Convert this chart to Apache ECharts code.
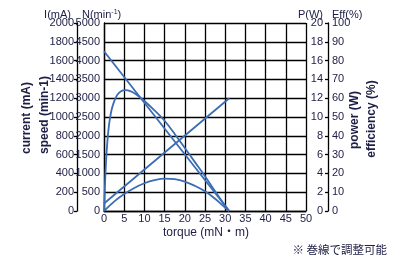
<!DOCTYPE html>
<html><head><meta charset="utf-8">
<script src="https://cdn.jsdelivr.net/npm/echarts@6/dist/echarts.min.js"></script>
<style>html,body{margin:0;padding:0;background:#fff}#c{width:400px;height:265px}</style>
</head><body><div id="c"></div>
<script>
// torque (mN·m) vs speed (min-1)
const speedData = [[0, 4250], [31, 0]];
// torque vs current (mA)
const currentData = [[0, 80], [31, 1200]];
// torque vs output power (W)
const powerData = [[0,0],[2.5,1.0],[5,1.8],[7.5,2.45],[10,2.95],[12.5,3.28],[15,3.44],[17.5,3.38],[20,3.13],[22.5,2.68],[25,2.1],[27.5,1.3],[30,0.35],[31,0]];
// torque vs efficiency (%)
const effData = [[0,0],[0.2,12],[0.5,26],[0.8,36],[1.2,45],[1.7,52],[2.3,57],[3.2,61.5],[4.2,63.7],[5.3,64.3],[6.5,63.8],[8,62],[10,58.5],[12.5,53.5],[15,48],[17.5,41],[20,33.5],[22.5,26],[25,18.5],[27.5,10.5],[30,2.8],[31,0]];

const xLabel = 'torque (mN・m)';
const TXT = '#1d1d45';
const LINE = '#3b6cb4';
const FONT = '"Liberation Sans Narrow", "Liberation Sans"';

const chart = echarts.init(document.getElementById('c'), null, {renderer: 'canvas'});
const lbl = {color: TXT, fontFamily: FONT, fontSize: 11, formatter: v => String(v)};
chart.setOption({
  animation: false,
  grid: {left: 104, right: 94, top: 23, bottom: 54},
  xAxis: {
    type: 'value', min: 0, max: 50, interval: 5,
    axisLine: {show: true, lineStyle: {color: '#000', width: 1.3}},
    axisTick: {show: false},
    splitLine: {show: true, lineStyle: {color: '#000', width: 1.3}},
    axisLabel: Object.assign({margin: 2}, lbl)
  },
  yAxis: [
    {type: 'value', position: 'left', min: 0, max: 5000, interval: 500,
     axisLine: {show: true, lineStyle: {color: '#000', width: 1.3}},
     axisTick: {show: false},
     splitLine: {show: true, lineStyle: {color: '#000', width: 1.3}},
     axisLabel: Object.assign({margin: 4}, lbl)},
    {type: 'value', position: 'left', offset: 27, min: 0, max: 2000, interval: 200,
     axisLine: {show: true, lineStyle: {color: '#000', width: 1.3}},
     axisTick: {show: true, length: 3, lineStyle: {color: '#000', width: 1.3}},
     splitLine: {show: false},
     axisLabel: Object.assign({margin: 3}, lbl)},
    {type: 'value', position: 'right', offset: 22, min: 0, max: 20, interval: 2,
     axisLine: {show: true, lineStyle: {color: '#000', width: 1.3}},
     axisTick: {show: true, inside: true, length: 3, lineStyle: {color: '#000', width: 1.3}},
     splitLine: {show: false},
     axisLabel: Object.assign({inside: true, margin: 5}, lbl)},
    {type: 'value', position: 'right', offset: 22, min: 0, max: 100, interval: 10,
     axisLine: {show: false},
     axisTick: {show: false},
     splitLine: {show: false},
     axisLabel: Object.assign({margin: 4}, lbl)}
  ],
  series: [
    {type: 'line', yAxisIndex: 0, data: speedData, showSymbol: false, lineStyle: {color: LINE, width: 1.8}},
    {type: 'line', yAxisIndex: 1, data: currentData, showSymbol: false, lineStyle: {color: LINE, width: 1.8}},
    {type: 'line', yAxisIndex: 2, data: powerData, smooth: 0.4, showSymbol: false, lineStyle: {color: LINE, width: 1.8}},
    {type: 'line', yAxisIndex: 3, data: effData, smooth: 0.3, showSymbol: false, lineStyle: {color: LINE, width: 1.8}}
  ],
  graphic: [
    {type: 'text', style: {text: 'I(mA)', x: 71, y: 15, textAlign: 'right', textVerticalAlign: 'middle', fill: TXT, font: '11px ' + FONT}},
    {type: 'text', style: {text: 'N(min{s|-1})', x: 82, y: 15, textAlign: 'left', textVerticalAlign: 'middle', fill: TXT, font: '11px ' + FONT,
      rich: {s: {fontSize: 7, verticalAlign: 'top', padding: [0,0,5,0], fill: TXT, fontFamily: FONT}}}},
    {type: 'text', style: {text: 'P(W)', x: 323, y: 15, textAlign: 'right', textVerticalAlign: 'middle', fill: TXT, font: '11px ' + FONT}},
    {type: 'text', style: {text: 'Eff(%)', x: 332, y: 15, textAlign: 'left', textVerticalAlign: 'middle', fill: TXT, font: '11px ' + FONT}},
    {type: 'text', x: 27, y: 118, rotation: Math.PI / 2, style: {text: 'current (mA)', x: 0, y: 0, textAlign: 'center', textVerticalAlign: 'middle', fill: TXT, font: 'bold 12px ' + FONT}},
    {type: 'text', x: 45, y: 115, rotation: Math.PI / 2, style: {text: 'speed (min-1)', x: 0, y: 0, textAlign: 'center', textVerticalAlign: 'middle', fill: TXT, font: 'bold 12px ' + FONT}},
    {type: 'text', x: 355, y: 120, rotation: Math.PI / 2, style: {text: 'power (W)', x: 0, y: 0, textAlign: 'center', textVerticalAlign: 'middle', fill: TXT, font: 'bold 12px ' + FONT}},
    {type: 'text', x: 372, y: 119, rotation: Math.PI / 2, style: {text: 'efficiency (%)', x: 0, y: 0, textAlign: 'center', textVerticalAlign: 'middle', fill: TXT, font: 'bold 12px ' + FONT}},
    {type: 'text', style: {text: xLabel, x: 206, y: 233, textAlign: 'center', textVerticalAlign: 'middle', fill: TXT, font: '12px ' + FONT + ', "Noto Sans CJK JP"'}},
    {type: 'text', style: {text: '※ 巻線で調整可能', x: 387, y: 250, textAlign: 'right', textVerticalAlign: 'middle', fill: TXT, font: '11.5px "Noto Sans CJK JP"'}}
  ]
});
</script></body></html>
